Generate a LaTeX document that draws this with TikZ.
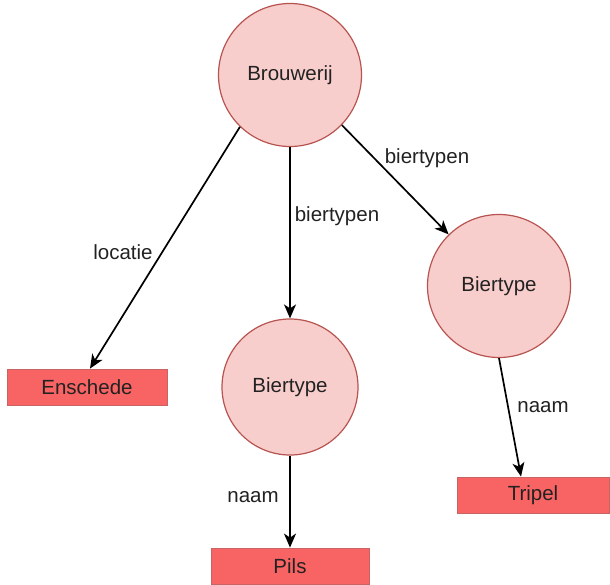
\documentclass[tikz,border=0pt]{standalone}
\usepackage{fontspec}
\setmainfont{Liberation Sans}
\usetikzlibrary{arrows.meta}
\definecolor{circfill}{HTML}{F8CECC}
\definecolor{circline}{HTML}{B85450}
\definecolor{rectfill}{HTML}{F86464}
\definecolor{rectline}{HTML}{C86464}
\definecolor{txt}{HTML}{222222}
\tikzset{
  ent/.style={circle, draw=circline, fill=circfill, line width=1.2pt, inner sep=0pt, font=\fontsize{20.5}{24}\selectfont, text=txt},
  val/.style={rectangle, draw=rectline, fill=rectfill, line width=0.8pt, inner sep=0pt, font=\fontsize{20.5}{24}\selectfont, text=txt},
  rel/.style={draw=black, line width=1.7pt, -{Stealth[length=14pt,width=12pt,inset=4pt]}},
  lbl/.style={font=\fontsize{20.5}{24}\selectfont, text=txt, inner sep=0pt}
}
\begin{document}
\begin{tikzpicture}[x=1pt,y=-1pt]
\useasboundingbox[fill=white] (0,0) rectangle (610,584);
\node[ent, minimum size=143pt] (br) at (290,75) {Brouwerij};
\node[ent, minimum size=136pt] (bm) at (290,387) {Biertype};
\node[ent, minimum size=143pt] (bt) at (499,286) {Biertype};
\node[val, minimum width=160pt, minimum height=36pt] (en) at (87,387) {Enschede};
\node[val, minimum width=158pt, minimum height=36pt] (pi) at (290,566) {Pils};
\node[val, minimum width=152pt, minimum height=36pt] (tr) at (533,495) {Tripel};
\draw[rel] (br.226) -- (en.north -| 90,0);
\draw[rel] (br) -- (bm);
\draw[rel] (br.316) -- (bt);
\draw[rel] (bt.south) -- (tr.north -| 521,0);
\draw[rel] (bm) -- (pi);
\node[lbl] (l1) at (123,252) {locatie};
\node[lbl] (l2) at (337,216) {biertypen};
\node[lbl] (l3) at (427,158) {biertypen};
\node[lbl] (l4) at (543,407) {naam};
\node[lbl] (l5) at (253,497) {naam};
\end{tikzpicture}
\end{document}
